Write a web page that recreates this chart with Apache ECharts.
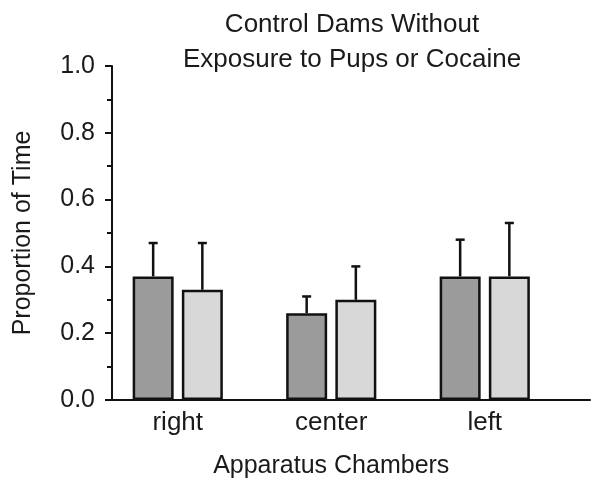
<!DOCTYPE html>
<html><head><meta charset="utf-8">
<script src="https://cdn.jsdelivr.net/npm/echarts@6/dist/echarts.min.js"></script>
<style>html,body{margin:0;padding:0;background:#fff}#c{width:600px;height:487px}</style>
</head><body><div id="c"></div>
<script>
var categories = ['right', 'center', 'left'];
var darkValues = [0.37, 0.26, 0.37];
var lightValues = [0.33, 0.30, 0.37];
var darkErr = [0.10, 0.05, 0.11];
var lightErr = [0.14, 0.10, 0.16];
var yTicks = [0.0, 0.2, 0.4, 0.6, 0.8, 1.0];

var FONT = 'Liberation Sans';
var BAR_FRAC = 0.267, GAP_FRAC = 0.2;

function errSeries(vals, errs, sign) {
  return {
    type: 'custom', xAxisIndex: 0, yAxisIndex: 0, z: 1,
    data: vals.map(function (v, i) { return [i, v, v + errs[i]]; }),
    renderItem: function (params, api) {
      var band = api.size([1, 0])[0];
      var bw = band * BAR_FRAC;
      var off = sign * bw * (1 + GAP_FRAC) / 2;
      var p0 = api.coord([api.value(0), api.value(1)]);
      var p1 = api.coord([api.value(0), api.value(2)]);
      var x = p0[0] + off;
      var st = { stroke: '#111', lineWidth: 2.5 };
      return { type: 'group', children: [
        { type: 'line', shape: { x1: x, y1: p0[1], x2: x, y2: p1[1] }, style: st },
        { type: 'line', shape: { x1: x - 4.5, y1: p1[1], x2: x + 4.5, y2: p1[1] }, style: st }
      ]};
    }
  };
}

var chart = echarts.init(document.getElementById('c'));
chart.setOption({
  animation: false,
  backgroundColor: '#fff',
  title: {
    text: 'Control Dams Without\nExposure to Pups or Cocaine',
    left: 347, top: 2, textAlign: 'center',
    textStyle: { fontFamily: FONT, fontSize: 26, fontWeight: 'normal', color: '#1a1a1a', lineHeight: 35 }
  },
  grid: [
    { left: 101, right: 38.5, top: 66, bottom: 87 },
    { left: 112, right: 10, top: 66, bottom: 87 }
  ],
  xAxis: [
    {
      type: 'category', gridIndex: 0, data: categories,
      axisLine: { show: false }, axisTick: { show: false },
      axisLabel: { fontFamily: FONT, fontSize: 26, color: '#1a1a1a', margin: 10 },
      name: 'Apparatus Chambers', nameLocation: 'middle', nameGap: 54,
      nameTextStyle: { fontFamily: FONT, fontSize: 25, color: '#1a1a1a' }
    },
    {
      type: 'value', gridIndex: 1, min: 0, max: 1,
      axisLine: { show: true, onZero: false, lineStyle: { color: '#111', width: 2 } },
      axisTick: { show: false }, axisLabel: { show: false }, splitLine: { show: false }
    }
  ],
  yAxis: [
    {
      type: 'value', gridIndex: 0, min: 0, max: 1, interval: 0.2, offset: -11,
      axisLine: { show: true, lineStyle: { color: '#111', width: 2 } },
      axisTick: { show: true, inside: false, length: 7, lineStyle: { color: '#111', width: 2 } },
      minorTick: { show: true, splitNumber: 2, length: 5, lineStyle: { color: '#111', width: 2 } },
      splitLine: { show: false },
      axisLabel: {
        fontFamily: FONT, fontSize: 25, color: '#1a1a1a', margin: 17,
        formatter: function (v) {
          for (var i = 0; i < yTicks.length; i++) if (Math.abs(yTicks[i] - v) < 1e-6) return yTicks[i].toFixed(1);
          return '';
        }
      },
      name: 'Proportion of Time', nameLocation: 'middle', nameGap: 76,
      nameTextStyle: { fontFamily: FONT, fontSize: 25, color: '#1a1a1a' }
    },
    { type: 'value', gridIndex: 1, min: 0, max: 1, show: false }
  ],
  series: [
    {
      type: 'bar', xAxisIndex: 0, yAxisIndex: 0, data: darkValues, z: 2,
      barWidth: (BAR_FRAC * 100) + '%', barGap: (GAP_FRAC * 100) + '%',
      itemStyle: { color: '#9b9b9b', borderColor: '#111', borderWidth: 2.5 }
    },
    {
      type: 'bar', xAxisIndex: 0, yAxisIndex: 0, data: lightValues, z: 2,
      barWidth: (BAR_FRAC * 100) + '%', barGap: (GAP_FRAC * 100) + '%',
      itemStyle: { color: '#d8d8d8', borderColor: '#111', borderWidth: 2.5 }
    },
    errSeries(darkValues, darkErr, -1),
    errSeries(lightValues, lightErr, 1)
  ]
});
</script></body></html>
